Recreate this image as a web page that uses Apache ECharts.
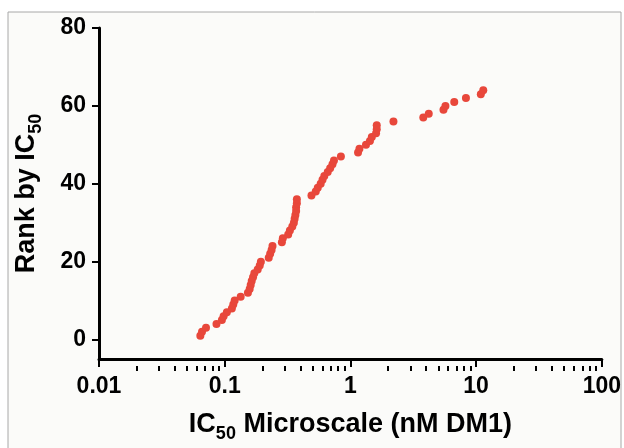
<!DOCTYPE html>
<html>
<head>
<meta charset="utf-8">
<script src="https://cdn.jsdelivr.net/npm/echarts@6/dist/echarts.min.js"></script>
<style>
  html, body { margin: 0; padding: 0; background: #ffffff; }
  #chart { width: 624px; height: 448px; }
</style>
</head>
<body>
<div id="chart"></div>
<script>
var chartDom = document.getElementById('chart');

// rank 1..64, IC50 in nM DM1
var ranks = [];
for (var i = 1; i <= 64; i++) ranks.push(i);
var ic50 = [
    0.064, 0.066, 0.071, 0.086, 0.095, 0.098, 0.104, 0.114, 0.117, 0.12,
    0.134, 0.153, 0.158, 0.161, 0.164, 0.168, 0.172, 0.183, 0.19, 0.194,
    0.224, 0.23, 0.236, 0.24, 0.285, 0.29, 0.32, 0.33, 0.345, 0.355,
    0.36, 0.365, 0.37, 0.37, 0.375, 0.375, 0.49, 0.53, 0.55, 0.58,
    0.6, 0.62, 0.66, 0.69, 0.72, 0.74, 0.84, 1.15, 1.18, 1.33,
    1.43, 1.48, 1.6, 1.62, 1.62, 2.2, 3.8, 4.2, 5.5, 5.7,
    6.7, 8.3, 10.9, 11.4
];
var yTicks = [0, 20, 40, 60, 80];
var xMajor = [0.01, 0.1, 1, 10, 100];
var xMinor = [
    0.02, 0.03, 0.04, 0.05, 0.06, 0.07, 0.08, 0.09,
    0.2, 0.3, 0.4, 0.5, 0.6, 0.7, 0.8, 0.9,
    2, 3, 4, 5, 6, 7, 8, 9,
    20, 30, 40, 50, 60, 70, 80, 90
];

var points = ic50.map(function (v, i) { return [v, ranks[i]]; });

var font = '"Liberation Sans", Arial, sans-serif';
var titleRich = {
    a: { fontFamily: font, fontWeight: 'bold', fontSize: 27, color: '#000', lineHeight: 32, verticalAlign: 'top' },
    s: { fontFamily: font, fontWeight: 'bold', fontSize: 18, color: '#000', lineHeight: 32, padding: [14, 0, 0, 0], verticalAlign: 'top' }
};

var gridTop = 28, gridBottom = 82;
var plotHeight = 448 - gridTop - gridBottom;

function createScatter() {
    var myChart = echarts.init(chartDom, null, { renderer: 'canvas' });
    var option;

    option = {
        backgroundColor: '#ffffff',
        animation: false,
        graphic: [
            {
                type: 'rect',
                shape: { x: 8, y: 12, width: 613, height: 450 },
                style: { fill: '#fbfbf9', stroke: '#a8a8a8', lineWidth: 1 },
                z: -10
            }
        ],
        grid: {
            left: 99,
            right: 19,
            top: gridTop,
            bottom: gridBottom
        },
        xAxis: [
            {
                type: 'log',
                logBase: 10,
                min: 0.01,
                max: 100,
                position: 'bottom',
                axisLine: { onZero: false, lineStyle: { color: '#000', width: 3 } },
                axisTick: {
                    length: 8,
                    lineStyle: { color: '#000', width: 2 },
                    customValues: xMajor
                },
                axisLabel: {
                    color: '#000',
                    fontFamily: font,
                    fontWeight: 'bold',
                    fontSize: 23,
                    margin: 16,
                    customValues: xMajor,
                    formatter: function (v) { return String(v); }
                },
                splitLine: { show: false },
                name: '{a|IC}{s|50}{a| Microscale (nM DM1)}',
                nameLocation: 'middle',
                nameGap: 52,
                nameTextStyle: { rich: titleRich }
            },
            {
                // minor ticks: a top axis pushed down onto the bottom edge
                type: 'log',
                logBase: 10,
                min: 0.01,
                max: 100,
                position: 'top',
                offset: -plotHeight,
                axisLine: { show: false, onZero: false },
                axisTick: {
                    inside: true,
                    length: 5,
                    lineStyle: { color: '#000', width: 2 },
                    customValues: xMinor
                },
                axisLabel: { show: false },
                splitLine: { show: false }
            }
        ],
        yAxis: {
            type: 'value',
            min: -5,
            max: 80,
            axisLine: { show: true, onZero: false, lineStyle: { color: '#000', width: 3 } },
            axisTick: {
                show: true,
                length: 7,
                lineStyle: { color: '#000', width: 2 },
                customValues: yTicks
            },
            axisLabel: {
                color: '#000',
                fontFamily: font,
                fontWeight: 'bold',
                fontSize: 23,
                margin: 13,
                customValues: yTicks
            },
            splitLine: { show: false },
            name: '{a|Rank by IC}{s|50}',
            nameLocation: 'middle',
            nameGap: 54,
            nameRotate: 90,
            nameTextStyle: { rich: titleRich }
        },
        series: [
            {
                name: 'IC50',
                type: 'scatter',
                xAxisIndex: 0,
                data: points,
                symbol: 'circle',
                symbolSize: 8,
                itemStyle: {
                    color: '#e8473b',
                    opacity: 1
                }
            }
        ]
    };

    option && myChart.setOption(option);
}

createScatter();
</script>
</body>
</html>
